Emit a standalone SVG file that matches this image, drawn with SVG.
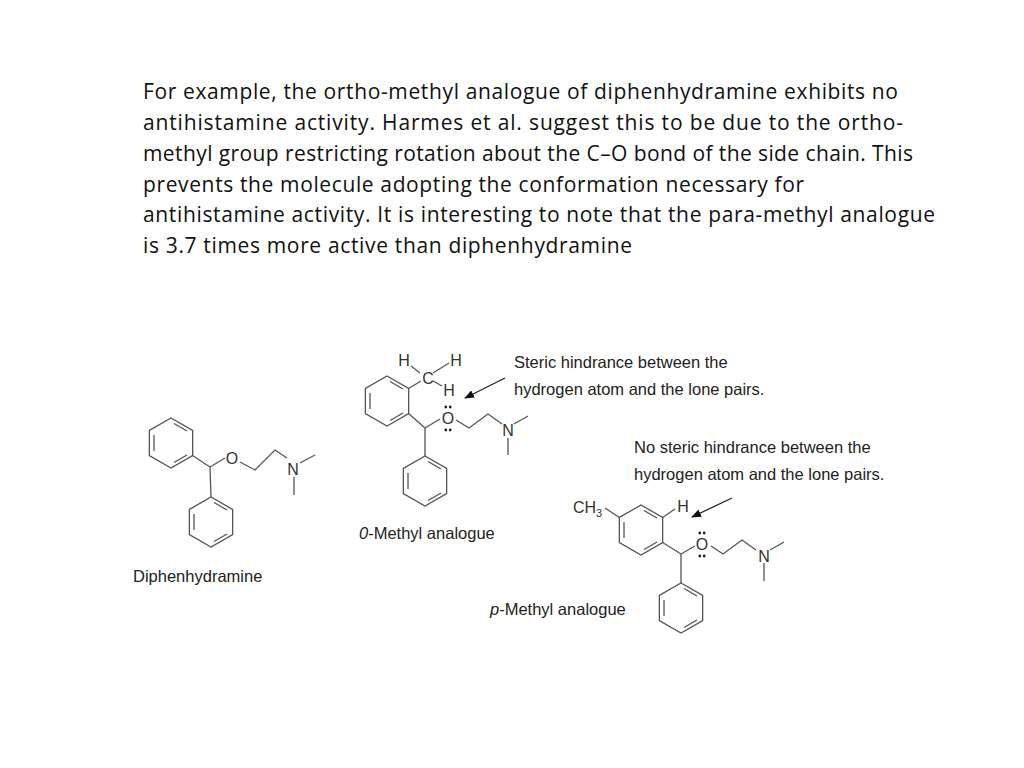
<svg xmlns="http://www.w3.org/2000/svg" xmlns:xlink="http://www.w3.org/1999/xlink" width="1024" height="768" viewBox="0 0 1024 768">
<style>
.t{font-family:"Open Sans",Lato,sans-serif;font-size:21px;fill:#111}
.l{font-family:"Liberation Sans",Arial,sans-serif;font-size:16.5px;fill:#222}
.a{font-family:"Liberation Sans",Arial,sans-serif;font-size:16px;fill:#333}
.b{fill:none;stroke:#555;stroke-width:1.3}
.d{fill:#222}
</style>
<defs>
<g id="ring" class="b">
<polygon points="0,-25 21.65,-12.5 21.65,12.5 0,25 -21.65,12.5 -21.65,-12.5"/>
<line x1="-17" y1="-8" x2="-17" y2="8"/>
<line x1="3" y1="-19.5" x2="16" y2="-12"/>
<line x1="16" y1="12" x2="3" y2="19.5"/>
</g>
<g id="lp" class="d">
<circle cx="-2.2" cy="-17" r="1.4"/><circle cx="2.2" cy="-17" r="1.4"/>
<circle cx="-2.2" cy="6" r="1.4"/><circle cx="2.2" cy="6" r="1.4"/>
</g>
<marker id="ar" markerWidth="10" markerHeight="8" refX="9" refY="4" orient="auto" markerUnits="userSpaceOnUse"><path d="M0,0 L10,4 L0,8z" fill="#111"/></marker>
</defs>
<rect width="1024" height="768" fill="#fff"/>
<g id="paragraph">
<text class="t" x="143" y="99" textLength="755">For example, the ortho-methyl analogue of diphenhydramine exhibits no</text>
<text class="t" x="143" y="130" textLength="760">antihistamine activity. Harmes et al. suggest this to be due to the ortho-</text>
<text class="t" x="143" y="161" textLength="770">methyl group restricting rotation about the C–O bond of the side chain. This</text>
<text class="t" x="143" y="192" textLength="661">prevents the molecule adopting the conformation necessary for</text>
<text class="t" x="143" y="222" textLength="792">antihistamine activity. It is interesting to note that the para-methyl analogue</text>
<text class="t" x="143" y="253" textLength="489">is 3.7 times more active than diphenhydramine</text>
</g>
<g id="diphenhydramine">
<use xlink:href="#ring" x="171" y="443"/>
<use xlink:href="#ring" x="211" y="522"/>
<polyline class="b" points="192.6,455.5 210,467 211,497"/>
<polyline class="b" points="210,467 225,458"/>
<polyline class="b" points="240,462 255,470 275,450 287,458"/>
<line class="b" x1="300" y1="463" x2="315" y2="455"/>
<line class="b" x1="294" y1="477" x2="294" y2="495"/>
<text class="a" x="232" y="464" text-anchor="middle">O</text>
<text class="a" x="293" y="475" text-anchor="middle">N</text>
<text class="l" x="133" y="582">Diphenhydramine</text>
</g>
<g id="o-methyl">
<use xlink:href="#ring" x="387" y="401"/>
<use xlink:href="#ring" x="425" y="481"/>
<polyline class="b" points="408.6,413.5 425,428 425,456"/>
<line class="b" x1="408.6" y1="388.5" x2="421" y2="381"/>
<line class="b" x1="425" y1="428" x2="440" y2="419"/>
<line class="b" x1="411" y1="366" x2="420" y2="373"/>
<line class="b" x1="433" y1="373" x2="449" y2="363"/>
<line class="b" x1="433" y1="381" x2="442" y2="386"/>
<polyline class="b" points="456,420 469,428 488,414 502,424"/>
<line class="b" x1="514" y1="424" x2="528" y2="416"/>
<line class="b" x1="508" y1="438" x2="508" y2="455"/>
<text class="a" x="404" y="366" text-anchor="middle">H</text>
<text class="a" x="456" y="366" text-anchor="middle">H</text>
<text class="a" x="428" y="384" text-anchor="middle">C</text>
<text class="a" x="449" y="396" text-anchor="middle">H</text>
<text class="a" x="448" y="424" text-anchor="middle">O</text>
<use xlink:href="#lp" x="448" y="424"/>
<text class="a" x="508" y="436" text-anchor="middle">N</text>
<line x1="505" y1="378" x2="465" y2="398" stroke="#222" stroke-width="1.3" marker-end="url(#ar)"/>
<text class="l" x="514" y="368">Steric hindrance between the</text>
<text class="l" x="514" y="395">hydrogen atom and the lone pairs.</text>
<text class="l" x="359" y="539"><tspan font-style="italic">0</tspan>-Methyl analogue</text>
</g>
<g id="p-methyl">
<use xlink:href="#ring" x="641" y="530"/>
<use xlink:href="#ring" x="681" y="608"/>
<polyline class="b" points="662.6,542.5 681,554 681,583"/>
<line class="b" x1="662.6" y1="517.5" x2="675" y2="509"/>
<line class="b" x1="619.4" y1="517.5" x2="605" y2="508"/>
<line class="b" x1="681" y1="554" x2="695" y2="546"/>
<polyline class="b" points="711,546 723,554 742,540 756,550"/>
<line class="b" x1="770" y1="550" x2="784" y2="542"/>
<line class="b" x1="764" y1="563" x2="764" y2="581"/>
<text class="a" x="573" y="513">CH<tspan font-size="11" dy="4">3</tspan></text>
<text class="a" x="683" y="512" text-anchor="middle">H</text>
<text class="a" x="702" y="550" text-anchor="middle">O</text>
<use xlink:href="#lp" x="702" y="550"/>
<text class="a" x="764" y="562" text-anchor="middle">N</text>
<line x1="732" y1="498" x2="692" y2="517" stroke="#222" stroke-width="1.3" marker-end="url(#ar)"/>
<text class="l" x="634" y="453">No steric hindrance between the</text>
<text class="l" x="634" y="480">hydrogen atom and the lone pairs.</text>
<text class="l" x="490" y="615"><tspan font-style="italic">p</tspan>-Methyl analogue</text>
</g>
</svg>
